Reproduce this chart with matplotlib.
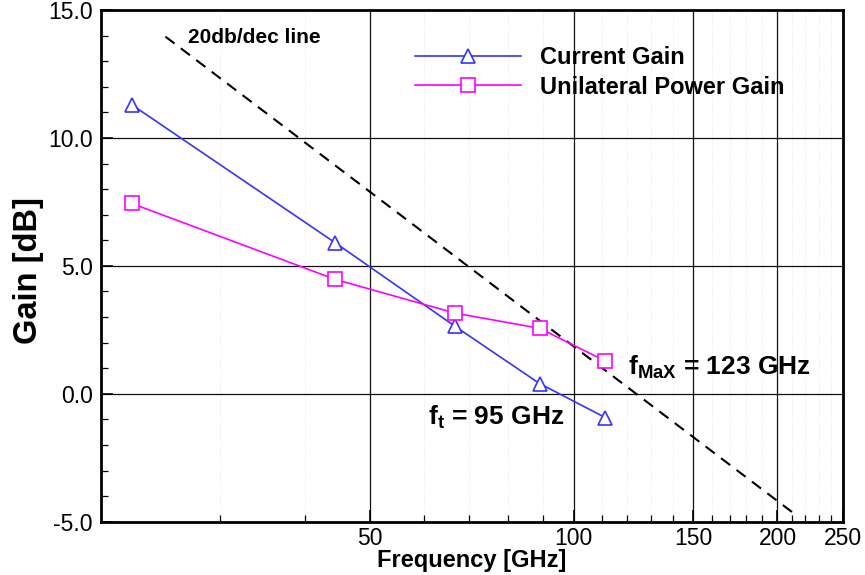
import matplotlib
matplotlib.use("Agg")
import matplotlib.pyplot as plt
from matplotlib.ticker import FixedLocator, FixedFormatter, NullFormatter

# ---- data ----
freq = [22.2, 44.4, 66.8, 89.0, 111.3]
current_gain = [11.3, 5.9, 2.63, 0.40, -0.93]
power_gain = [7.44, 4.47, 3.15, 2.56, 1.28]
line_freq = [24.9, 214.5]
line_gain = [13.96, -4.8]

xticks_major = [50, 100, 150, 200, 250]
xtick_labels = ["50", "100", "150", "200", "250"]
xticks_minor = [30, 40, 60, 70, 80, 90, 110, 120, 130, 140,
                160, 170, 180, 190, 210, 220, 230, 240]
yticks_major = [-5, 0, 5, 10, 15]
ytick_labels = ["-5.0", "0.0", "5.0", "10.0", "15.0"]
yticks_minor = [v for v in range(-4, 15) if v % 5 != 0]

plt.rcParams['font.family'] = ['Liberation Sans', 'DejaVu Sans']
plt.rcParams['axes.unicode_minus'] = False
plt.rcParams['mathtext.fontset'] = 'custom'
plt.rcParams['mathtext.rm'] = 'Liberation Sans:bold'
plt.rcParams['mathtext.bf'] = 'Liberation Sans:bold'
plt.rcParams['mathtext.it'] = 'Liberation Sans:bold'

fig = plt.figure(figsize=(8.65, 5.75), dpi=100)
ax = fig.add_axes([101/865, 1-521.7/575, 742/865, 511.7/575])

ax.set_xscale('log')
ax.set_xlim(20, 250)
ax.set_ylim(-5, 15)

BLUE = '#3434ff'
MAG = '#ff00ff'

ax.plot(line_freq, line_gain, color='black', lw=1.5, dashes=(5.5, 3.8), zorder=3)
ax.plot(freq, current_gain, color=BLUE, lw=1.2, marker='^', markersize=10.5,
        markerfacecolor='white', markeredgecolor=BLUE, markeredgewidth=1.2,
        label='Current Gain', zorder=4)
ax.plot(freq, power_gain, color=MAG, lw=1.2, marker='s', markersize=9.5,
        markerfacecolor='white', markeredgecolor=MAG, markeredgewidth=1.2,
        label='Unilateral Power Gain', zorder=4)

ax.xaxis.set_major_locator(FixedLocator(xticks_major))
ax.xaxis.set_major_formatter(FixedFormatter(xtick_labels))
ax.xaxis.set_minor_locator(FixedLocator(xticks_minor))
ax.xaxis.set_minor_formatter(NullFormatter())
ax.yaxis.set_major_locator(FixedLocator(yticks_major))
ax.yaxis.set_major_formatter(FixedFormatter(ytick_labels))
ax.yaxis.set_minor_locator(FixedLocator(yticks_minor))

ax.tick_params(which='major', direction='in', length=8.5, width=1.2,
               labelsize=16.5, top=False, right=False)
ax.tick_params(which='minor', direction='in', length=5, width=0.9,
               top=False, right=False)
ax.tick_params(axis='x', which='major', pad=4)
ax.tick_params(axis='y', which='major', pad=6)

for s in ax.spines.values():
    s.set_linewidth(2)
    s.set_color('black')

ax.grid(True, which='major', color='#111111', lw=0.9)
ax.grid(True, which='minor', axis='x', color='#dddddd', lw=0.5, ls=':')
ax.set_axisbelow(True)

leg = ax.legend(loc='upper left', bbox_to_anchor=((415-101)/742, 1-(46-10)/511.7),
                frameon=False, handlelength=4.5, handletextpad=0.8,
                labelspacing=0.28, borderpad=0, borderaxespad=0,
                prop={'weight': 'bold', 'size': 17})

ax.text(26.9, 13.72, '20db/dec line', fontsize=15, fontweight='bold', va='baseline', ha='left')
ax.text(60.9, -1.23, r'f$_{\mathbf{t}}$ = 95 GHz', fontsize=19, fontweight='bold',
        va='baseline', ha='left')
ax.text(120.1, 0.73, r'f$_{\mathbf{MaX}}$ = 123 GHz', fontsize=19, fontweight='bold',
        va='baseline', ha='left')

fig.text(29/865, 1-271/575, 'Gain [dB]', rotation=90, fontsize=23.5, fontweight='bold',
         ha='center', va='center')
fig.text(471.7/865, 1-560/575, 'Frequency [GHz]', fontsize=17, fontweight='bold',
         ha='center', va='center')

fig.savefig('out.png', dpi=100)
